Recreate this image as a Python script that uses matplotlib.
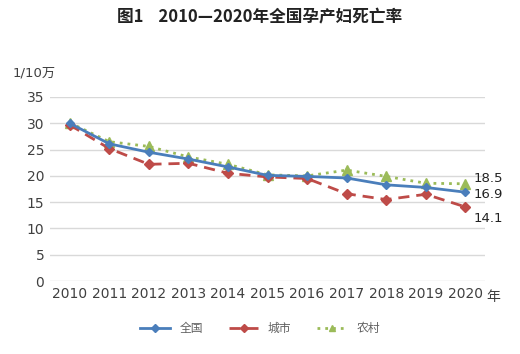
import matplotlib.pyplot as plt
from matplotlib.lines import Line2D

plt.rcParams['font.family'] = ['DejaVu Sans', 'Noto Sans CJK SC']

years = [2010, 2011, 2012, 2013, 2014, 2015, 2016, 2017, 2018, 2019, 2020]
national = [30.0, 26.1, 24.5, 23.2, 21.7, 20.1, 19.9, 19.6, 18.3, 17.8, 16.9]
urban = [29.7, 25.2, 22.2, 22.4, 20.5, 19.8, 19.5, 16.6, 15.5, 16.5, 14.1]
rural = [30.1, 26.5, 25.6, 23.6, 22.2, 20.2, 20.0, 21.1, 19.9, 18.6, 18.5]
yticks = [0, 5, 10, 15, 20, 25, 30, 35]

blue = '#4a7ebb'
red = '#be4b48'
green = '#9bbb59'
text_col = '#404040'
cjk = ['Noto Sans CJK SC', 'DejaVu Sans']

fig = plt.figure(figsize=(5.2, 3.54), dpi=100)
ax = fig.add_axes([0.096, 0.206, 0.837, 0.52])

ax.plot(years, national, color=blue, lw=2, marker='D', ms=4.5, zorder=3)
ax.plot(years, urban, color=red, lw=2, ls=(0, (4, 2.5)), marker='D', ms=5, zorder=2)
ax.plot(years, rural, color=green, lw=2, ls=(0, (1, 1.8)), marker='^', ms=6.5, zorder=1)

ax.set_xlim(2009.5, 2020.5)
ax.set_ylim(0, 35)
ax.set_xticks(years)
ax.set_yticks(yticks)
ax.tick_params(length=0, labelsize=10, colors=text_col, pad=4)
ax.grid(axis='y', color='#d9d9d9', lw=1)
ax.set_axisbelow(True)
for s in ax.spines.values():
    s.set_visible(False)

# end labels
ax.annotate('18.5', (years[-1], rural[-1]), xytext=(6, 4), textcoords='offset points',
            fontsize=9.5, color='#222222', va='center')
ax.annotate('16.9', (years[-1], national[-1]), xytext=(6, -2), textcoords='offset points',
            fontsize=9.5, color='#222222', va='center')
ax.annotate('14.1', (years[-1], urban[-1]), xytext=(6, -8), textcoords='offset points',
            fontsize=9.5, color='#222222', va='center')

fig.text(0.5, 0.95, '图1    2010—2020年全国孕产妇死亡率', ha='center', va='center',
         fontsize=12, fontweight='bold', color='#222222', family=cjk)
fig.text(0.025, 0.795, '1/10万', ha='left', va='center', fontsize=9.5, color=text_col)
fig.text(0.935, 0.162, '年', ha='left', va='center', fontsize=10, color=text_col, family=cjk)

handles = [
    Line2D([], [], color=blue, lw=2, marker='D', ms=4),
    Line2D([], [], color=red, lw=2, ls=(0, (4, 2.5)), marker='D', ms=4),
    Line2D([], [], color=green, lw=2, ls=(0, (1, 1.8)), marker='^', ms=5),
]
leg = fig.legend(handles, ['全国', '城市', '农村'], loc='center', bbox_to_anchor=(0.5, 0.073),
                 ncol=3, frameon=False, fontsize=8.5, handlelength=2.5, columnspacing=2.2,
                 labelcolor='#606060', prop={'family': cjk, 'size': 8.5})

fig.savefig('out.png', dpi=100)
